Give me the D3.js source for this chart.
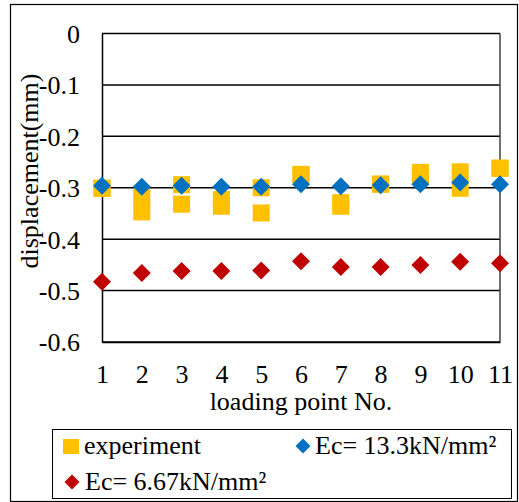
<!DOCTYPE html>
<html>
<head>
<meta charset="utf-8">
<script src="https://cdn.jsdelivr.net/npm/d3@7/dist/d3.min.js"></script>
<style>
  html, body { margin: 0; padding: 0; background: #fff; }
  svg { display: block; }
  text { font-family: "Liberation Serif", "Times New Roman", serif; fill: #000; }
</style>
</head>
<body>
<svg id="chart" width="519" height="502"></svg>
<script>
// Loading points along the beam
const points = [1, 2, 3, 4, 5, 6, 7, 8, 9, 10, 11];
// Measured displacements (two readings per loading point), mm
const experimentA = [-0.301, -0.318, -0.294, -0.323, -0.300, -0.274, -0.329, -0.293, -0.270, -0.269, -0.262];
const experimentB = [-0.301, -0.347, -0.332, -0.336, -0.349, -0.274, -0.336, -0.293, -0.276, -0.301, -0.262];
// Computed displacements for two concrete moduli, mm
const ec133 = [-0.296, -0.298, -0.296, -0.298, -0.298, -0.293, -0.297, -0.295, -0.293, -0.290, -0.293];
const ec667 = [-0.483, -0.466, -0.462, -0.462, -0.461, -0.443, -0.454, -0.454, -0.450, -0.444, -0.447];
const yTicks = [0, -0.1, -0.2, -0.3, -0.4, -0.5, -0.6];
const yTickLabels = ["0", "-0.1", "-0.2", "-0.3", "-0.4", "-0.5", "-0.6"];

const colors = { exp: "#FFC000", hi: "#0070C0", lo: "#C00000" };

const svg = d3.select("#chart");
const plot = { left: 102, right: 500, top: 33.5, bottom: 342 };

const x = d3.scaleLinear().domain([1, 11]).range([plot.left, plot.right]);
const y = d3.scaleLinear().domain([-0.6, 0]).range([plot.bottom, plot.top]);

// outer chart border
svg.append("rect")
  .attr("x", 10.5).attr("y", 4.5).attr("width", 507).attr("height", 497)
  .attr("fill", "none").attr("stroke", "#000").attr("stroke-width", 1.2);

// horizontal gridlines
svg.append("g").selectAll("line").data(yTicks).join("line")
  .attr("x1", plot.left).attr("x2", plot.right)
  .attr("y1", d => y(d)).attr("y2", d => y(d))
  .attr("stroke", "#000").attr("stroke-width", 1.5);

// plot frame: right edge
svg.append("line").attr("x1", plot.right).attr("x2", plot.right)
  .attr("y1", plot.top).attr("y2", plot.bottom)
  .attr("stroke", "#404040").attr("stroke-width", 1.5);

// y axis
const yAxis = d3.axisLeft(y).tickValues(yTicks).tickSize(0).tickPadding(22)
  .tickFormat((d, i) => yTickLabels[i]);
const gy = svg.append("g").attr("transform", `translate(${plot.left},0)`).call(yAxis);
gy.select(".domain").attr("stroke", "#000").attr("stroke-width", 1.5);
gy.selectAll("text").style("font-size", "26px").attr("dy", "0.34em");

// x axis (labels below the frame)
const xAxis = d3.axisBottom(x).tickValues(points).tickSize(0).tickPadding(0)
  .tickFormat(d3.format("d"));
const gx = svg.append("g").attr("transform", `translate(0,${plot.bottom})`).call(xAxis);
gx.select(".domain").attr("stroke", "#000").attr("stroke-width", 1.5);
gx.selectAll("text").style("font-size", "26px").attr("y", 41).attr("dy", 0);

// axis titles
svg.append("text").attr("x", x(6)).attr("y", 410).attr("text-anchor", "middle")
  .style("font-size", "26px").text("loading point No.");
svg.append("text")
  .attr("transform", `translate(38,171) rotate(-90)`)
  .attr("text-anchor", "middle").style("font-size", "26px")
  .text("displacement(mm)");

const diamond = (cx, cy, r) => `M${cx},${cy - r}L${cx + r},${cy}L${cx},${cy + r}L${cx - r},${cy}Z`;
const sq = 17;

// experiment readings
const expPoints = points.flatMap((p, i) => [[p, experimentA[i]], [p, experimentB[i]]]);
svg.append("g").selectAll("rect").data(expPoints).join("rect")
  .attr("x", d => x(d[0]) - sq / 2).attr("y", d => y(d[1]) - sq / 2)
  .attr("width", sq).attr("height", sq).attr("fill", colors.exp);

// Ec = 13.3 kN/mm²
svg.append("g").selectAll("path").data(points).join("path")
  .attr("d", (p, i) => diamond(x(p), y(ec133[i]), 9)).attr("fill", colors.hi);

// Ec = 6.67 kN/mm²
svg.append("g").selectAll("path").data(points).join("path")
  .attr("d", (p, i) => diamond(x(p), y(ec667[i]), 9)).attr("fill", colors.lo);

// legend
const lg = svg.append("g");
lg.append("rect").attr("x", 52.5).attr("y", 429.5).attr("width", 459).attr("height", 69)
  .attr("fill", "#fff").attr("stroke", "#000").attr("stroke-width", 1);
lg.append("rect").attr("x", 63).attr("y", 439).attr("width", 16).attr("height", 15).attr("fill", colors.exp);
lg.append("text").attr("x", 84).attr("y", 454).style("font-size", "26px").text("experiment");
lg.append("path").attr("d", diamond(303, 446, 7.5)).attr("fill", colors.hi);
lg.append("text").attr("x", 315).attr("y", 454).style("font-size", "26px").text("Ec= 13.3kN/mm²");
lg.append("path").attr("d", diamond(72, 482, 7.5)).attr("fill", colors.lo);
lg.append("text").attr("x", 85).attr("y", 490).style("font-size", "26px").text("Ec= 6.67kN/mm²");
</script>
</body>
</html>
